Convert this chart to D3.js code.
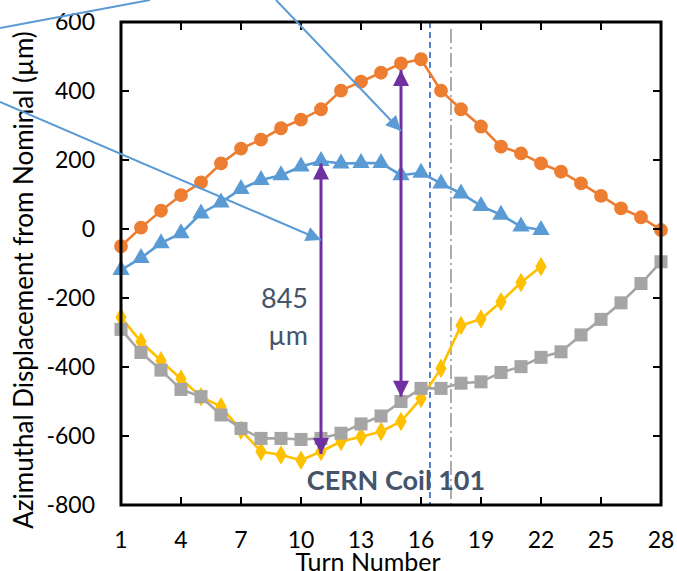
<!DOCTYPE html>
<html>
<head>
<meta charset="utf-8">
<script src="https://cdn.jsdelivr.net/npm/d3@7"></script>
<style>
  body { margin: 0; background: #fff; }
  svg { display: block; font-family: Lato, "Open Sans", sans-serif; }
</style>
</head>
<body>
<div id="chart"></div>
<script>
// turn numbers and measured displacements (um)
let turns28 = d3.range(1, 29);
let turns22 = d3.range(1, 23);

let orange = [-50, 4, 53, 98, 135, 190, 233, 259, 292, 317, 347, 401, 427, 453,
    480, 492, 401, 347, 297, 239, 219, 190, 166, 132, 96, 60, 34, -3];
let blue = [-119, -84, -41, -12, 45, 77, 116, 142, 156, 181, 197, 190, 191, 191,
    156, 163, 132, 103, 67, 41, 7, -3];
let yellow = [-256, -327, -382, -435, -486, -515, -583, -645, -655, -670, -645, -616,
    -602, -587, -558, -491, -404, -280, -261, -211, -155, -109];
let gray = [-291, -358, -409, -465, -486, -539, -578, -607, -607, -610, -607, -592,
    -565, -542, -500, -462, -462, -447, -443, -416, -399, -372, -356, -307, -262,
    -214, -158, -95];

let xTicks = [1, 4, 7, 10, 13, 16, 19, 22, 25, 28];
let yTicks = [-800, -600, -400, -200, 0, 200, 400, 600];

// double arrows: [turn, top, bottom]
let spans = [[11, 190, -652], [15, 461, -486]];

let width = 677, height = 571;
let margin = {top: 22, left: 121, right: 16, bottom: 66};

let svg = d3.select('#chart').append('svg')
    .attr('width', width)
    .attr('height', height);

let x = d3.scaleLinear().domain([1, 28]).range([margin.left, width - margin.right]);
let y = d3.scaleLinear().domain([-800, 600]).range([height - margin.bottom, margin.top]);

let defs = svg.append('defs');
function arrowMarker(id, color, w, h) {
    defs.append('marker')
        .attr('id', id)
        .attr('viewBox', '0 0 10 10')
        .attr('refX', 10).attr('refY', 5)
        .attr('markerUnits', 'userSpaceOnUse')
        .attr('markerWidth', w).attr('markerHeight', h)
        .attr('orient', 'auto-start-reverse')
        .append('path')
        .attr('d', 'M0,0L10,5L0,10Z')
        .attr('fill', color);
}
arrowMarker('purpleHead', '#7030A0', 20, 16);
arrowMarker('blueHead', '#5B9BD5', 18, 15);

// vertical reference lines
svg.append('line')
    .attr('x1', x(16.45)).attr('x2', x(16.45))
    .attr('y1', y(600)).attr('y2', y(-800))
    .attr('stroke', '#4472C4').attr('stroke-width', 1.8)
    .attr('stroke-dasharray', '6,4');
svg.append('line')
    .attr('x1', x(17.5)).attr('x2', x(17.5))
    .attr('y1', y(580)).attr('y2', y(-800))
    .attr('stroke', '#A5A5A5').attr('stroke-width', 1.8)
    .attr('stroke-dasharray', '14,4,2,4');

// series
function drawSeries(xs, vals, color, shape, size) {
    let pts = xs.map((t, i) => [t, vals[i]]);
    svg.append('path')
        .datum(pts)
        .attr('fill', 'none')
        .attr('stroke', color)
        .attr('stroke-width', 2.6)
        .attr('d', d3.line().x(d => x(d[0])).y(d => y(d[1])));
    svg.append('g').selectAll('path')
        .data(pts)
        .join('path')
        .attr('transform', d => `translate(${x(d[0])},${y(d[1])})`)
        .attr('d', d3.symbol().type(shape).size(size))
        .attr('fill', color);
}
drawSeries(turns28, orange, '#ED7D31', d3.symbolCircle, 150);
drawSeries(turns22, blue, '#5B9BD5', d3.symbolTriangle, 130);
drawSeries(turns22, yellow, '#FFC000', d3.symbolDiamond, 110);
drawSeries(turns28, gray, '#A5A5A5', d3.symbolSquare, 170);

// frame and ticks
let frame = svg.append('g');
frame.append('rect')
    .attr('x', x(1)).attr('y', y(600))
    .attr('width', x(28) - x(1)).attr('height', y(-800) - y(600))
    .attr('fill', 'none').attr('stroke', '#000').attr('stroke-width', 3);

let tl = 8;
xTicks.slice(1, -1).forEach(t => {
    frame.append('line').attr('x1', x(t)).attr('x2', x(t))
        .attr('y1', y(-800)).attr('y2', y(-800) - tl)
        .attr('stroke', '#000').attr('stroke-width', 2);
    frame.append('line').attr('x1', x(t)).attr('x2', x(t))
        .attr('y1', y(600)).attr('y2', y(600) + tl)
        .attr('stroke', '#000').attr('stroke-width', 2);
});
yTicks.slice(1, -1).forEach(v => {
    frame.append('line').attr('x1', x(1)).attr('x2', x(1) + tl)
        .attr('y1', y(v)).attr('y2', y(v))
        .attr('stroke', '#000').attr('stroke-width', 2);
    frame.append('line').attr('x1', x(28)).attr('x2', x(28) - tl)
        .attr('y1', y(v)).attr('y2', y(v))
        .attr('stroke', '#000').attr('stroke-width', 2);
});

// tick labels
svg.append('g').selectAll('text')
    .data(xTicks)
    .join('text')
    .attr('x', d => x(d))
    .attr('y', 548)
    .attr('text-anchor', 'middle')
    .attr('font-size', 23)
    .attr('fill', '#000')
    .text(d => d);
svg.append('g').selectAll('text')
    .data(yTicks)
    .join('text')
    .attr('x', 95)
    .attr('y', d => y(d) + 8)
    .attr('text-anchor', 'end')
    .attr('font-size', 23)
    .attr('fill', '#000')
    .text(d => d);

// axis titles
svg.append('text')
    .attr('x', 368).attr('y', 571)
    .attr('text-anchor', 'middle')
    .attr('font-size', 25)
    .text('Turn Number');
svg.append('text')
    .attr('transform', `translate(33,280) rotate(-90)`)
    .attr('text-anchor', 'middle')
    .attr('font-size', 26)
    .text('Azimuthal Displacement from Nominal (µm)');

// purple double arrows
spans.forEach(s => {
    svg.append('line')
        .attr('x1', x(s[0])).attr('x2', x(s[0]))
        .attr('y1', y(s[2])).attr('y2', y(s[1]))
        .attr('stroke', '#7030A0').attr('stroke-width', 3)
        .attr('marker-start', 'url(#purpleHead)')
        .attr('marker-end', 'url(#purpleHead)');
});

// blue callout lines
let callouts = [
    [0, 28, 150, 0, false],
    [276, 0, x(15), 131, true],
    [0, 102, x(11), 240, true]
];
callouts.forEach(c => {
    let l = svg.append('line')
        .attr('x1', c[0]).attr('y1', c[1])
        .attr('x2', c[2]).attr('y2', c[3])
        .attr('stroke', '#5B9BD5').attr('stroke-width', 2);
    if (c[4]) l.attr('marker-end', 'url(#blueHead)');
});

// annotations
svg.append('text')
    .attr('x', 308).attr('y', 308)
    .attr('text-anchor', 'end')
    .attr('font-size', 27)
    .attr('fill', '#44546A')
    .text('845');
svg.append('text')
    .attr('x', 308).attr('y', 345)
    .attr('text-anchor', 'end')
    .attr('font-size', 27)
    .attr('fill', '#44546A')
    .text('µm');
svg.append('text')
    .attr('x', 396).attr('y', 490)
    .attr('text-anchor', 'middle')
    .attr('font-size', 27)
    .attr('font-weight', 'bold')
    .attr('fill', '#44546A')
    .text('CERN Coil 101');
</script>
</body>
</html>
